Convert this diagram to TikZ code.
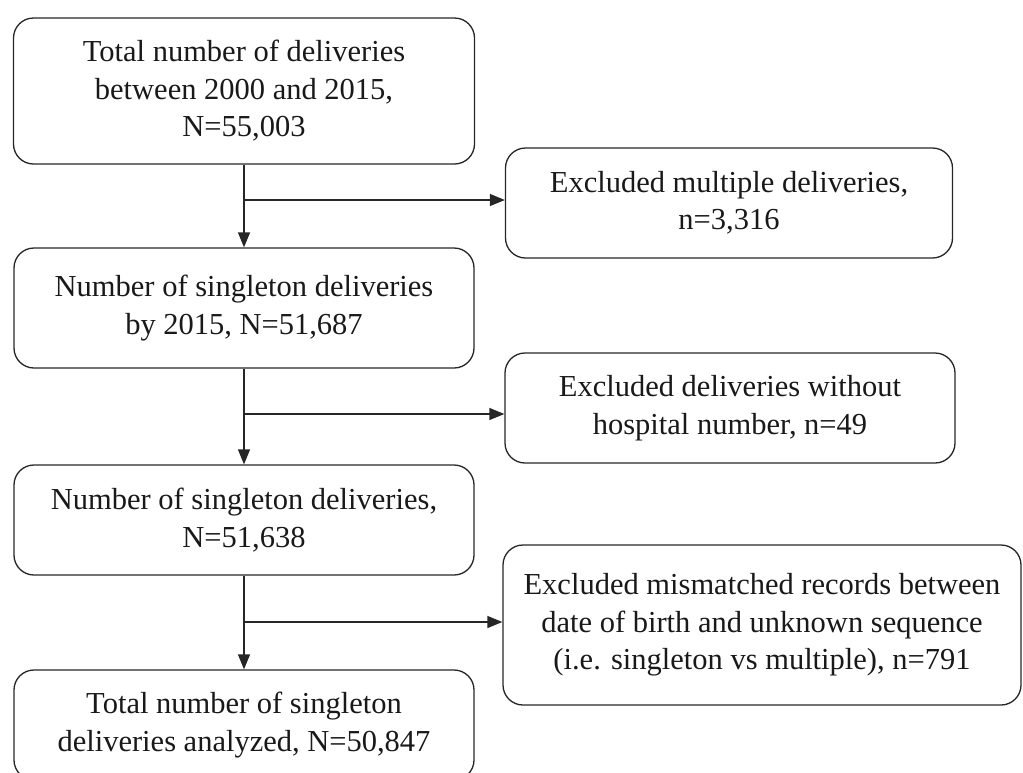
\documentclass[tikz,border=0pt]{standalone}
\usepackage{fontspec}
\setmainfont{Liberation Serif}
\usetikzlibrary{arrows.meta}
\begin{document}
\begin{tikzpicture}[x=1pt,y=-1pt,
  box/.style={draw=black!85, line width=1.3pt, rounded corners=20pt, align=center,
    font=\fontsize{30.5}{37.5}\selectfont, inner sep=0pt, text=black!90},
  arr/.style={line width=1.3pt, draw=black!85, -{Triangle[length=15pt,width=12pt]}},
  ln/.style={line width=1.3pt, draw=black!85}]
\useasboundingbox (0,0) rectangle (1023,772);
\node[box, minimum width=461pt, minimum height=146pt] (b1) at (244,91)
  {Total number of deliveries\\between 2000 and 2015,\\N=55,003};
\node[box, minimum width=447pt, minimum height=110pt] (b2) at (729,203)
  {Excluded multiple deliveries,\\n=3,316};
\node[box, minimum width=460pt, minimum height=120pt] (b3) at (244,308)
  {Number of singleton deliveries\\by 2015, N=51,687};
\node[box, minimum width=450pt, minimum height=110pt] (b4) at (730,408)
  {Excluded deliveries without\\hospital number, n=49};
\node[box, minimum width=460pt, minimum height=110pt] (b5) at (244,520)
  {Number of singleton deliveries,\\N=51,638};
\node[box, minimum width=518pt, minimum height=160pt] (b6) at (762,625)
  {Excluded mismatched records between\\date of birth and unknown sequence\\(i.e. singleton vs multiple), n=791};
\node[box, minimum width=460pt, minimum height=110pt] (b7) at (244,725)
  {Total number of singleton\\deliveries analyzed, N=50,847};
\coordinate (j1) at (b1.south |- 0,200);
\coordinate (j2) at (b3.south |- 0,414);
\coordinate (j3) at (b5.south |- 0,622);
\draw[arr] (b1.south) -- (b3.north);
\draw[arr] (b3.south) -- (b5.north);
\draw[arr] (b5.south) -- (b7.north);
\draw[arr] (j1) -- (j1 -| b2.west);
\draw[arr] (j2) -- (j2 -| b4.west);
\draw[arr] (j3) -- (j3 -| b6.west);
\end{tikzpicture}
\end{document}
